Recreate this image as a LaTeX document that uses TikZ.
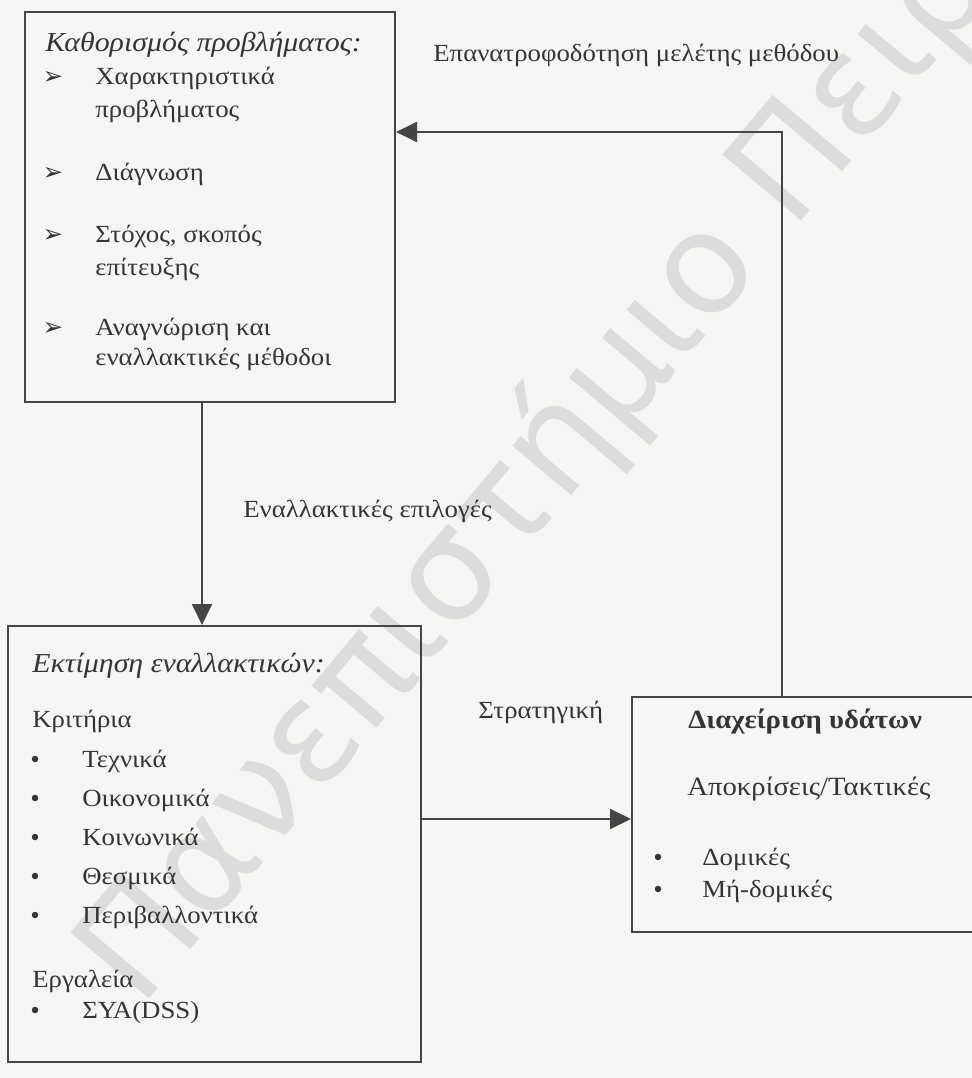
\documentclass[tikz,border=0pt]{standalone}
\usepackage{fontspec}
\setmainfont{Liberation Serif}[FakeStretch=1.09]
\newfontfamily\dingfont{DejaVu Sans}
\newfontfamily\markfont{DejaVu Sans}
\usetikzlibrary{arrows.meta,positioning}

\definecolor{inkcol}{HTML}{353535}
\definecolor{linecol}{HTML}{454545}
\definecolor{papercol}{HTML}{F5F5F3}
\definecolor{markcol}{HTML}{DCDCDC}

\begin{document}
\begin{tikzpicture}[
    x=0.02cm,
    y=-0.02cm,
    >={Triangle[length=4.2mm,width=4mm]},
    flow/.style={
        ->,
        line width=1.1pt,
        draw=linecol
    },
    box/.style={
        draw=linecol,
        line width=1.2pt,
        rectangle,
        inner sep=0pt
    },
    txt/.style={
        inner sep=0pt,
        anchor=base west,
        text=inkcol,
        font=\fontsize{14}{17}\selectfont
    },
    bigtxt/.style={
        txt,
        font=\fontsize{15}{18}\selectfont
    },
    boxtitle/.style={
        txt,
        font=\fontsize{15.6}{19}\selectfont\itshape
    },
    tick/.style={
        inner sep=0pt,
        anchor=base,
        text=inkcol,
        font=\dingfont\fontsize{14}{16}\selectfont
    },
    dot/.style={
        circle,
        fill=inkcol,
        inner sep=0pt,
        minimum size=1.3mm
    },
    watermark/.style={
        inner sep=0pt,
        anchor=base west,
        text=markcol,
        font=\markfont\fontsize{80}{80}\selectfont
    }
]

\useasboundingbox (0,0) rectangle (972,1078);
\clip (0,0) rectangle (972,1078);
\fill[papercol] (0,0) rectangle (972,1078);

% watermark of the scan
\node[watermark, rotate=50] (wm) at (140,1010) {Πανεπιστήμιο Πειραιώς};

% ============================================================
% Boxes
% ============================================================
\node[box, minimum width=7.4cm,  minimum height=7.8cm]  (box-def)  at (210,207)   {};
\node[box, minimum width=8.26cm, minimum height=8.72cm] (box-eval) at (214.5,844) {};
% runs past the right edge of the page
\node[box, minimum width=8.4cm,  minimum height=4.7cm]  (box-mgmt) at (842,814.5) {};

% ------------------------------------------------------------
% 1. Problem definition
% ------------------------------------------------------------
\node[boxtitle] (def-title) at (45,52) {Καθορισμός προβλήματος:};

\foreach \i/\yy in {1/85, 2/180, 3/242, 4/335}
    \node[tick] (def-tick-\i) at (53,\yy) {➢};

\node[txt] (def-1a) at (95,85)  {Χαρακτηριστικά};
\node[txt] (def-1b) at (95,117) {προβλήματος};
\node[txt] (def-2)  at (95,180) {Διάγνωση};
\node[txt] (def-3a) at (95,242) {Στόχος, σκοπός};
\node[txt] (def-3b) at (95,275) {επίτευξης};
\node[txt] (def-4a) at (95,335) {Αναγνώριση και};
\node[txt] (def-4b) at (95,365) {εναλλακτικές μέθοδοι};

% ------------------------------------------------------------
% 2. Evaluation of alternatives
% ------------------------------------------------------------
\node[boxtitle] (ev-title) at (32,672) {Εκτίμηση εναλλακτικών:};
\node[txt] (ev-crit) at (32,727) {Κριτήρια};

\foreach \i/\yy/\word in {1/767/Τεχνικά, 2/806/Οικονομικά, 3/845/Κοινωνικά,
                          4/884/Θεσμικά, 5/923/Περιβαλλοντικά} {
    \node[dot] (ev-dot-\i) at (35,\yy-8) {};
    \node[txt] (ev-item-\i) at (82,\yy) {\word};
}

\node[txt] (ev-tools) at (32,987) {Εργαλεία};
\node[dot] (ev-dot-6) at (35,1010) {};
\node[txt] (ev-item-6) at (82,1018) {ΣΥΑ(DSS)};

% ------------------------------------------------------------
% 3. Water management
% ------------------------------------------------------------
\node[bigtxt, font=\fontsize{15}{18}\selectfont\bfseries] (wm-title) at (688,728) {Διαχείριση υδάτων};
\node[bigtxt] (wm-resp) at (687,795) {Αποκρίσεις/Τακτικές};

\node[dot] (wm-dot-1) at (658,857) {};
\node[txt] (wm-item-1) at (702,865) {Δομικές};
\node[dot] (wm-dot-2) at (658,889) {};
\node[txt] (wm-item-2) at (702,897) {Μή-δομικές};

% ============================================================
% Connectors
% ============================================================
\coordinate (fb-corner) at (782,132);
\coordinate (alt-axis)  at (202,0);
\coordinate (st-axis)   at (0,819);

% Feedback
\draw[flow] (fb-corner |- box-mgmt.north) -- (fb-corner) -- (fb-corner -| box-def.east);
\node[txt] (fb-label) at (433,62) {Επανατροφοδότηση μελέτης μεθόδου};

% Alternatives
\draw[flow] (alt-axis |- box-def.south) -- (alt-axis |- box-eval.north);
\node[txt] (alt-label) at (243,517) {Εναλλακτικές επιλογές};

% Strategy
\draw[flow] (st-axis -| box-eval.east) -- (st-axis -| box-mgmt.west);
\node[txt] (st-label) at (478,718) {Στρατηγική};

\end{tikzpicture}
\end{document}
